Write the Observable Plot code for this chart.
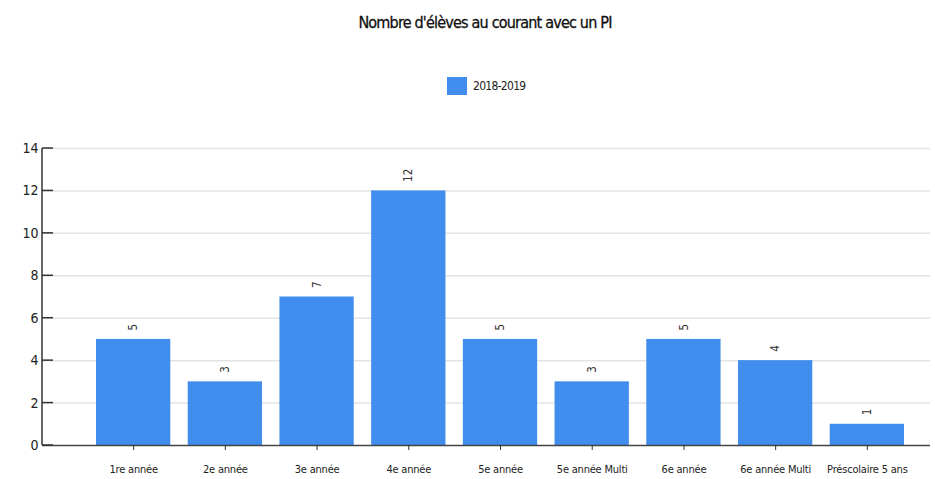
<!DOCTYPE html>
<html><head><meta charset="utf-8">
<script src="https://cdn.jsdelivr.net/npm/d3@7"></script>
<script src="https://cdn.jsdelivr.net/npm/@observablehq/plot@0.6"></script>
<style>
body{margin:0;background:#fff;font-family:"DejaVu Sans Condensed",sans-serif;font-stretch:condensed;width:935px;height:479px;overflow:hidden;}
#title{position:absolute;left:0;top:13px;width:970px;text-align:center;font-size:16px;color:#111;letter-spacing:-0.8px;-webkit-text-stroke:0.3px #111;}
#legend{position:absolute;left:447px;top:77px;display:flex;align-items:center;font-size:12px;color:#222;letter-spacing:-0.7px;}
#legend .sw{width:20px;height:18px;background:#418ded;margin-right:6px;}
#chart{position:absolute;left:0;top:130px;}
</style></head><body>
<div id="title">Nombre d'élèves au courant avec un PI</div>
<div id="legend"><div class="sw"></div><span>2018-2019</span></div>
<div id="chart"></div>
<script>
const categories = ["1re année","2e année","3e année","4e année","5e année","5e année Multi","6e année","6e année Multi","Préscolaire 5 ans"];
const values = [5,3,7,12,5,3,5,4,1];
const yTicks = [0,2,4,6,8,10,12,14];
const series = "2018-2019";

const data = categories.map((c,i)=>({cat:c, v:values[i], s:series}));
const font = "DejaVu Sans Condensed, sans-serif";

const chart = Plot.plot({
  width: 935, height: 349,
  marginTop: 18, marginBottom: 34, marginLeft: 42, marginRight: 5,
  style: {fontFamily: font, background: "#fff", fontStretch: "condensed"},
  x: {domain: categories, range: [96, 904], paddingInner: 0.19, paddingOuter: 0, round: false, label: null, axis: null},
  y: {domain: [0,14], label: null, axis: null},
  marks: [
    Plot.ruleY(yTicks.filter(d=>d>0), {stroke: "#e3e3e3", strokeWidth: 1.5}),
    Plot.barY(data, {x: "cat", y: "v", fill: "#418ded"}),
    Plot.ruleY([0], {stroke: "#444", strokeWidth: 1.5}),
    Plot.axisY(yTicks, {anchor: "left", tickSize: 0, tickPadding: 4, fontSize: 14, fill: "#222", label: null}),
    Plot.axisX({domain: categories, tickSize: 5, tickPadding: 15, fontSize: 11, fill: "#222", stroke: "#333", label: null}),
    Plot.text(data, {x: "cat", y: "v", text: d=>String(d.v), rotate: -90, textAnchor: "start", dy: -9, fontSize: 11.5, fill: "#333"})
  ]
});
// y axis line and inward tick marks, positioned with Plot's own y scale
const ys = chart.scale("y");
const svg = d3.select(chart);
const g = svg.append("g").attr("stroke", "#333").attr("stroke-width", 1.5);
g.append("line").attr("x1", 42).attr("x2", 42).attr("y1", ys.apply(0)).attr("y2", ys.apply(14));
g.selectAll("line.t").data(yTicks).join("line").attr("class","t")
  .attr("x1", 42).attr("x2", 53).attr("y1", d=>ys.apply(d)).attr("y2", d=>ys.apply(d));
svg.selectAll("g[aria-label='x-axis tick label'] text").attr("letter-spacing", "-0.2");
document.getElementById("chart").appendChild(chart);
</script>
</body></html>
